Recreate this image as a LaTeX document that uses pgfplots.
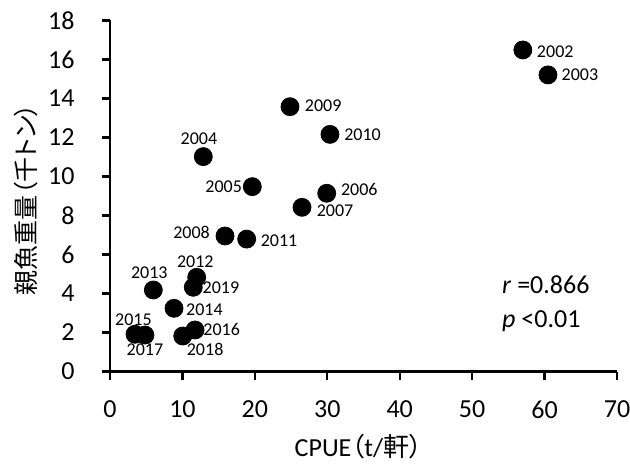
\documentclass[border=0pt]{standalone}
\usepackage{pgfplots}
\pgfplotsset{compat=1.18}
\usepackage{pgfplotstable}
\usepackage{fontspec}
\setmainfont{Carlito}
\newfontfamily\jp[RawFeature=+palt]{Noto Sans CJK JP}

% CPUE vs spawning stock; dx/dy place each year label (pt)
\pgfplotstableread{
x     y     year dx    dy
57.00 16.49 2002 16.2  -1.0
60.47 15.21 2003 16.0   0.0
24.85 13.58 2009 16.6   0.5
30.37 12.16 2010 16.3   0.0
12.88 11.02 2004 -2.2   8.7
19.65 9.48  2005 -14.3  0.0
29.92 9.14  2006 16.3   2.0
26.51 8.42  2007 16.5  -1.8
15.88 6.95  2008 -16.7  1.7
18.87 6.79  2011 16.2  -0.8
11.97 4.83  2012 -0.7   7.8
11.50 4.32  2019 13.8   0.0
5.98  4.18  2013 -2.0   8.7
8.84  3.24  2014 15.2  -0.5
3.45  1.91  2015 -0.8   7.5
4.83  1.87  2017 0.0   -7.5
11.74 2.13  2016 13.3   0.0
10.04 1.82  2018 11.2  -6.7
}\data

\begin{document}
\begin{tikzpicture}
\path[use as bounding box] (-55pt,-49.25pt) rectangle (260pt,185.75pt);
\begin{axis}[
  scale only axis, width=253.5pt, height=175.5pt,
  at={(0,0)}, anchor=south west,
  xmin=0, xmax=70, ymin=0, ymax=18,
  xtick={0,10,...,70}, ytick={0,2,...,18},
  axis x line*=bottom, axis y line*=left,
  axis line style={line width=1.2pt, -},
  tick align=outside, major tick length=4pt,
  tick style={line width=1.2pt, black},
  tick label style={font=\fontsize{13}{15}\selectfont, /pgf/number format/assume math mode=true},
  xticklabel style={inner sep=0pt, anchor=north, yshift=-10.5pt},
  yticklabel style={inner sep=0pt, anchor=east, xshift=-13.5pt},
  xlabel={CPUE{\jp （}t/{\jp 軒）}},
  xlabel style={font=\fontsize{13}{15}\selectfont, at={(axis description cs:0.49,-0.215)}, anchor=center},
  ylabel={\jp 親魚重量（千トン）},
  ylabel style={font=\fontsize{12.5}{14}\selectfont, at={(axis description cs:-0.166,0.49)}, anchor=center, rotate=0},
  clip=false,
]
\addplot[only marks, mark=*, mark size=4.5pt, black,
  point meta=explicit symbolic,
  visualization depends on={\thisrow{dx}\as\dx},
  visualization depends on={\thisrow{dy}\as\dy},
  nodes near coords,
  every node near coord/.append style={font=\fontsize{9}{10}\selectfont, inner sep=0pt, anchor=center, xshift=\dx pt, yshift=\dy pt}]
  table[x=x, y=y, meta=year] {\data};
\node[anchor=west, inner sep=0pt, font=\fontsize{13}{15}\selectfont] at (axis cs:54.1,4.44) {\textit{r} =0.866};
\node[anchor=west, inner sep=0pt, font=\fontsize{13}{15}\selectfont] at (axis cs:54.1,2.59) {\textit{p} <0.01};
\end{axis}
\end{tikzpicture}
\end{document}
